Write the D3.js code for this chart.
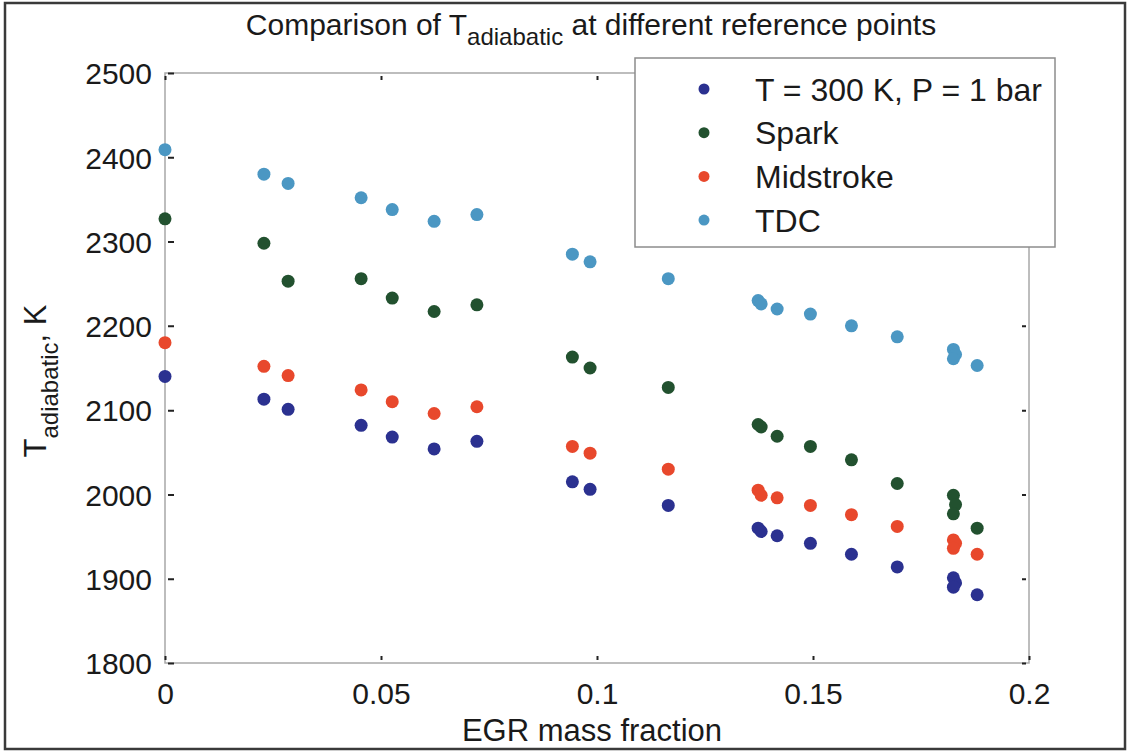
<!DOCTYPE html>
<html><head><meta charset="utf-8">
<script src="https://cdn.jsdelivr.net/npm/d3@7"></script>
<style>
html,body{margin:0;padding:0;background:#fff;}
text{font-family:"Liberation Sans",Arial,sans-serif;fill:#1a1a1a;}
</style></head>
<body>
<svg id="chart" width="1130" height="752"></svg>
<script>
// ---- data ----
const egr = [0, 0.0229, 0.0285, 0.0454, 0.0526, 0.0623, 0.0722, 0.0943, 0.0984, 0.1165, 0.1373, 0.1380, 0.1417, 0.1494, 0.1589, 0.1695, 0.1825, 0.1830, 0.1825, 0.1880];
const tStd      = [2140, 2113, 2101, 2082, 2068, 2054, 2063, 2015, 2006, 1987, 1960, 1956, 1951, 1942, 1929, 1914, 1901, 1895, 1890, 1881];
const tSpark    = [2327, 2298, 2253, 2256, 2233, 2217, 2225, 2163, 2150, 2127, 2083, 2080, 2069, 2057, 2041, 2013, 1999, 1988, 1977, 1960];
const tMid      = [2180, 2152, 2141, 2124, 2110, 2096, 2104, 2057, 2049, 2030, 2005, 1999, 1996, 1987, 1976, 1962, 1946, 1942, 1936, 1929];
const tTDC      = [2409, 2380, 2369, 2352, 2338, 2324, 2332, 2285, 2276, 2256, 2230, 2226, 2220, 2214, 2200, 2187, 2172, 2166, 2161, 2153];
const seriesNames = ["T = 300 K, P = 1 bar", "Spark", "Midstroke", "TDC"];
const seriesColors = ["#2b3190", "#22512f", "#e8482c", "#4b97c3"];
const xTicks = [0, 0.05, 0.1, 0.15, 0.2];
const xTickLabels = ["0", "0.05", "0.1", "0.15", "0.2"];
const yTicks = [1800, 1900, 2000, 2100, 2200, 2300, 2400, 2500];

const series = [tStd, tSpark, tMid, tTDC];

const svg = d3.select("#chart");
const L = 165, R = 1029, T = 73, B = 663;
const x = d3.scaleLinear().domain([0, 0.2]).range([L, R]);
const y = d3.scaleLinear().domain([1800, 2500]).range([B, T]);

// outer border
svg.append("rect").attr("x", 5).attr("y", 3).attr("width", 1120).attr("height", 746)
  .attr("fill", "none").attr("stroke", "#3a3a3a").attr("stroke-width", 2.5);

// plot frame
svg.append("rect").attr("x", L).attr("y", T).attr("width", R - L).attr("height", B - T)
  .attr("fill", "none").attr("stroke", "#a8a8a8").attr("stroke-width", 1.5);

// axes
const fmtX = (d, i) => xTickLabels[i];
const xb = svg.append("g").attr("transform", `translate(0,${B})`)
  .call(d3.axisBottom(x).tickValues(xTicks).tickFormat(fmtX).tickSizeInner(-7).tickSizeOuter(0).tickPadding(20));
const xt = svg.append("g").attr("transform", `translate(0,${T})`)
  .call(d3.axisTop(x).tickValues(xTicks).tickFormat("").tickSizeInner(-7).tickSizeOuter(0));
const yl = svg.append("g").attr("transform", `translate(${L},0)`)
  .call(d3.axisLeft(y).tickValues(yTicks).tickFormat(d3.format("d")).tickSizeInner(-9).tickSizeOuter(0).tickPadding(13));
const yr = svg.append("g").attr("transform", `translate(${R},0)`)
  .call(d3.axisRight(y).tickValues(yTicks).tickFormat("").tickSizeInner(-7).tickSizeOuter(0));
[xb, xt, yl, yr].forEach(g => {
  g.select(".domain").remove();
  g.selectAll(".tick line").attr("stroke", "#222").attr("stroke-width", 2).attr("stroke-dasharray", "0,3,5");
  g.selectAll(".tick text").style("font-size", "30px").style("font-family", '"Liberation Sans",Arial,sans-serif').attr("fill", "#1a1a1a");
});
xb.selectAll(".tick text").attr("dy", "0.71em");
yl.selectAll(".tick text").attr("dy", "0.36em");

// points
series.forEach((vals, si) => {
  svg.append("g").selectAll("circle").data(vals).join("circle")
    .attr("cx", (d, i) => x(egr[i])).attr("cy", d => y(d)).attr("r", 6.5)
    .attr("fill", seriesColors[si]);
});

// legend
const lg = svg.append("g");
lg.append("rect").attr("x", 635).attr("y", 58).attr("width", 420).attr("height", 189)
  .attr("fill", "#fff").attr("stroke", "#8c8c8c").attr("stroke-width", 1.5);
seriesNames.forEach((n, i) => {
  const cy = 89 + i * 43.7;
  lg.append("circle").attr("cx", 704).attr("cy", cy).attr("r", 5.5).attr("fill", seriesColors[i]);
  lg.append("text").attr("x", 755).attr("y", cy).attr("dy", "0.36em").style("font-size", "32px").text(n);
});

// title
const title = svg.append("text").attr("x", 591).attr("y", 35).attr("text-anchor", "middle").style("font-size", "30px");
title.append("tspan").text("Comparison of T");
title.append("tspan").attr("dy", 10).style("font-size", "24px").text("adiabatic");
title.append("tspan").attr("dy", -10).text(" at different reference points");

// x label
svg.append("text").attr("x", 592).attr("y", 741).attr("text-anchor", "middle").style("font-size", "31px").text("EGR mass fraction");

// y label
const yt = svg.append("text").attr("transform", "translate(46,381) rotate(-90)").attr("text-anchor", "middle").style("font-size", "31px");
yt.append("tspan").text("T");
yt.append("tspan").attr("dy", 12).style("font-size", "24px").text("adiabatic");
yt.append("tspan").attr("dy", -12).text(", K");
</script>
</body></html>
